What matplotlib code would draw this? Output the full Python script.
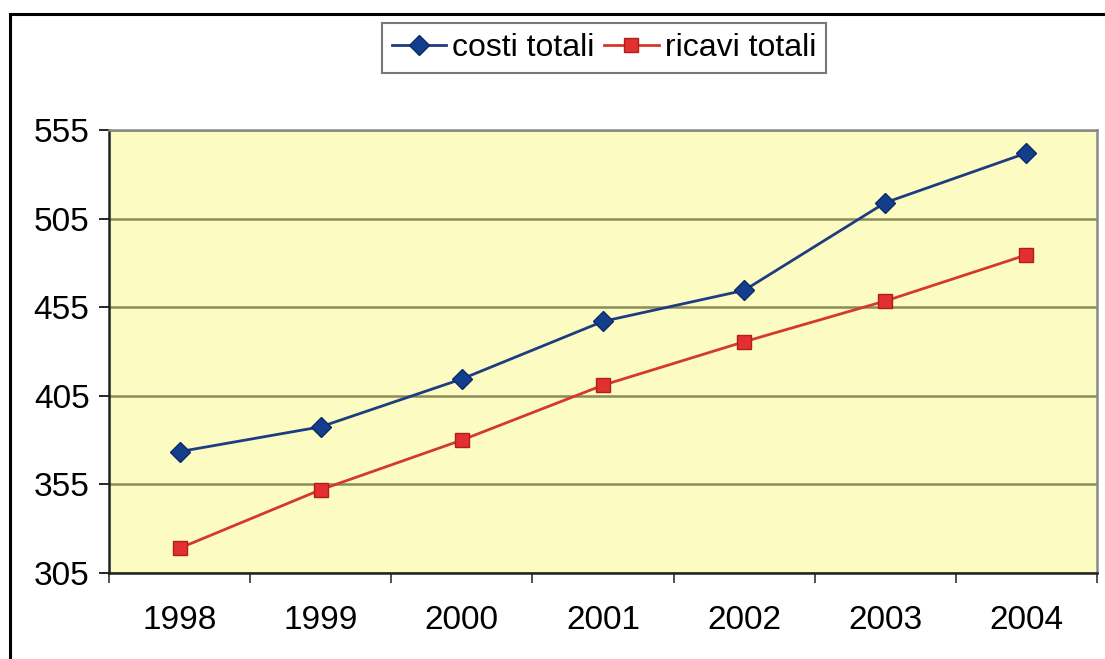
import matplotlib
matplotlib.use("Agg")
import matplotlib.pyplot as plt
from matplotlib.patches import Rectangle
import numpy as np

years = ["1998", "1999", "2000", "2001", "2002", "2003", "2004"]
costi_totali = [373.5, 387.5, 414.5, 447, 464.5, 514, 542]
ricavi_totali = [319, 352, 380, 411, 435.5, 458.5, 484.5]
y_ticks = [305, 355, 405, 455, 505, 555]

plt.rcParams['font.family'] = ['Liberation Sans', 'DejaVu Sans']

W, H = 1105, 659
fig = plt.figure(figsize=(W / 100, H / 100), dpi=100)
fig.patch.set_facecolor("white")

# outer chart frame
fig.add_artist(Rectangle((10 / W, -0.05), 1.2, 1 - 14 / H + 0.05,
                         transform=fig.transFigure, fill=False,
                         edgecolor="black", linewidth=2.2))

ax = fig.add_axes([109 / W, (H - 573) / H, (1097 - 109) / W, (573 - 130) / H])
ax.set_facecolor("#fbfbc2")

x = np.arange(len(years))
ax.plot(x, costi_totali, color="#1f3c80", linewidth=2.0, marker="D",
        markersize=10, markerfacecolor="#123e8c", markeredgecolor="#0b2a66",
        label="costi totali", zorder=3)
ax.plot(x, ricavi_totali, color="#d43a2a", linewidth=2.0, marker="s",
        markersize=10, markerfacecolor="#e2302f", markeredgecolor="#b01e1e",
        label="ricavi totali", zorder=3)

ax.set_xlim(-0.5, len(years) - 0.5)
ax.set_ylim(y_ticks[0], y_ticks[-1])
ax.set_yticks(y_ticks)
ax.set_yticklabels([str(v) for v in y_ticks], fontsize=24)
ax.set_xticks(x)
ax.set_xticklabels(years, fontsize=24)
ax.tick_params(axis="x", which="major", length=0, pad=23)
ax.set_xticks(np.arange(-0.5, len(years)), minor=True)
ax.tick_params(axis="x", which="minor", length=7, width=1.2, direction="out", color="#333333")
ax.tick_params(axis="y", which="major", length=7, width=1.2, direction="out", pad=7)

ax.yaxis.grid(True, color="#8c8c5a", linewidth=1.8)
ax.set_axisbelow(True)
for s in ["top", "right"]:
    ax.spines[s].set_color("#8a8a8a")
    ax.spines[s].set_linewidth(1.8)
for s in ["left", "bottom"]:
    ax.spines[s].set_color("#222222")
    ax.spines[s].set_linewidth(1.8)

leg = fig.legend(loc="center", bbox_to_anchor=(604 / W, 1 - 48 / H), ncol=2,
                 fontsize=23, frameon=True, fancybox=False, edgecolor="#555555",
                 handlelength=1.7, handletextpad=0.2, columnspacing=0.3,
                 borderpad=0.3)
leg.get_frame().set_linewidth(1.5)

fig.savefig("out.png", dpi=100, facecolor="white")
